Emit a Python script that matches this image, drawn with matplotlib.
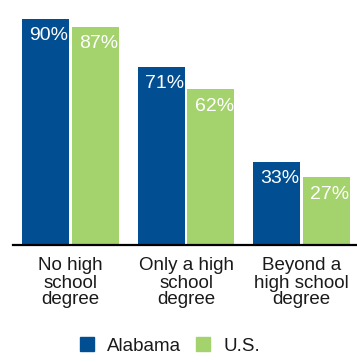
import numpy as np
import matplotlib.pyplot as plt
from matplotlib.patches import Patch

plt.rcParams['font.family'] = ['Liberation Sans', 'DejaVu Sans']

# share of adults, by education level
categories = ['No high\nschool\ndegree', 'Only a high\nschool\ndegree', 'Beyond a\nhigh school\ndegree']
alabama = [90, 71, 33]
us = [87, 62, 27]

blue = '#024e93'
green = '#a4d26c'

fig = plt.figure(figsize=(3.57, 3.62), dpi=100)
ax = fig.add_axes([13 / 357, 117 / 362, 344 / 357, 245 / 362])

x = np.arange(len(categories))
w = 0.407
off = 0.216
b1 = ax.bar(x - off, alabama, w, color=blue)
b2 = ax.bar(x + off, us, w, color=green)

for bars, vals in ((b1, alabama), (b2, us)):
    for bar, v in zip(bars, vals):
        ax.annotate(f'{v}%', (bar.get_x() + bar.get_width() / 2 + 0.03, v),
                    xytext=(0, -6), textcoords='offset points',
                    ha='center', va='top', color='white', fontsize=14)

ax.set_xlim(-0.498, 2.48)
ax.set_ylim(0, 97.6)
ax.set_yticks([])
ax.set_xticks(x)
ax.set_xticklabels(categories, fontsize=13.5, linespacing=1.0, color='#1a1a1a')
ax.tick_params(axis='x', length=0, pad=9)
for s in ['top', 'right', 'left']:
    ax.spines[s].set_visible(False)
ax.spines['bottom'].set_linewidth(1.6)

handles = [Patch(color=blue, label='Alabama'), Patch(color=green, label='U.S.')]
fig.legend(handles=handles, loc='center', bbox_to_anchor=(170 / 357, 1 - 346 / 362),
           ncol=2, frameon=False, fontsize=13.5, handlelength=0.75, handleheight=0.75,
           handletextpad=0.7, columnspacing=0.8, labelcolor='#1a1a1a')

fig.savefig('out.png', dpi=100)
